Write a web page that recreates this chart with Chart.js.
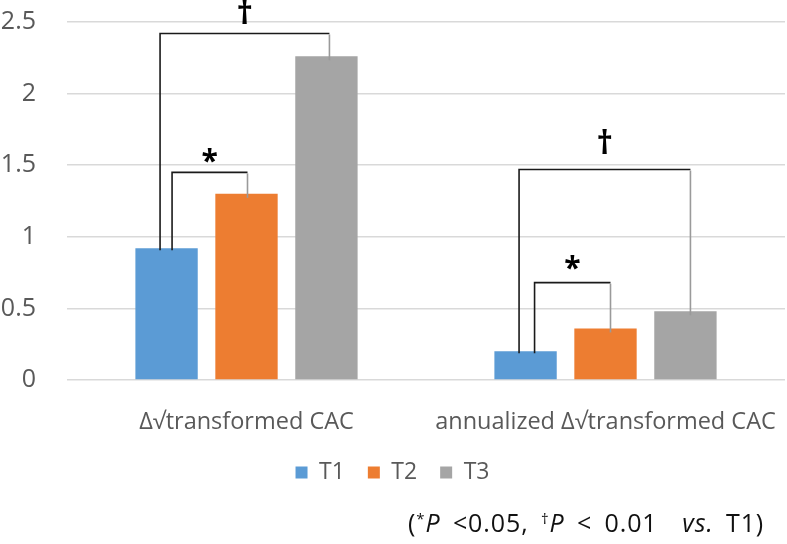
<!DOCTYPE html>
<html>
<head>
<meta charset="utf-8">
<script src="https://cdn.jsdelivr.net/npm/chart.js@4.4.1/dist/chart.umd.min.js"></script>
<style>
  html, body { margin: 0; padding: 0; background: #ffffff; }
  #wrap { position: relative; width: 787px; height: 544px; }
  #note {
    position: absolute; left: 408px; top: 505px;
    font-family: "Open Sans", "Noto Sans", sans-serif; font-size: 25px; color: #111;
    white-space: nowrap; letter-spacing: 0.9px; word-spacing: 5px;
  }
  #note sup { font-size: 15px; vertical-align: 8px; }
</style>
</head>
<body>
<div id="wrap">
  <canvas id="c" width="787" height="544"></canvas>
  <div id="note">(<sup>*</sup><i>P</i> &lt;0.05, <sup>†</sup><i>P</i> &lt; 0.01 &nbsp;<i>vs.</i> T1)</div>
</div>
<script>
const categories = ["Δ√transformed CAC", "annualized Δ√transformed CAC"];
const seriesNames = ["T1", "T2", "T3"];
const t1Values = [0.92, 0.20];
const t2Values = [1.30, 0.36];
const t3Values = [2.26, 0.48];
const yTicks = [0, 0.5, 1, 1.5, 2, 2.5];

// significance brackets (vs. T1)
const bracketCategory = [0, 0, 1, 1];
const bracketTarget = [1, 2, 1, 2];      // dataset index compared with T1
const bracketLevel = [1.45, 2.42, 0.68, 1.47];
const bracketMark = ["*", "†", "*", "†"];

const colors = ["#5B9BD5", "#ED7D31", "#A5A5A5"];
const FONT = '"Open Sans", "Noto Sans", sans-serif';

const bracketPlugin = {
  id: "brackets",
  afterDatasetsDraw(chart) {
    const ctx = chart.ctx;
    const y = chart.scales.y;
    ctx.save();
    for (let i = 0; i < bracketLevel.length; i++) {
      const cat = bracketCategory[i];
      const tgt = bracketTarget[i];
      const base = chart.getDatasetMeta(0).data[cat];
      const other = chart.getDatasetMeta(tgt).data[cat];
      const isDagger = bracketMark[i] === "†";
      const lx = base.x + (isDagger ? -6.5 : (cat === 0 ? 5.5 : 9));
      const rx = other.x + (cat === 0 ? (tgt === 1 ? 1 : 3) : 5);
      const ly = y.getPixelForValue(bracketLevel[i]);
      ctx.strokeStyle = "#1a1a1a";
      ctx.lineWidth = 1.6;
      ctx.beginPath();
      ctx.moveTo(lx, base.y + 2);
      ctx.lineTo(lx, ly);
      ctx.lineTo(rx, ly);
      ctx.stroke();
      ctx.strokeStyle = "#9a9a9a";
      ctx.beginPath();
      ctx.moveTo(rx, ly + 1);
      ctx.lineTo(rx, other.y + 4);
      ctx.stroke();
      ctx.fillStyle = "#000";
      ctx.textAlign = "center";
      ctx.textBaseline = "middle";
      ctx.font = "bold " + (isDagger ? 32 : 30) + "px " + FONT;
      const mx = (lx + rx) / 2;
      ctx.fillText(bracketMark[i], mx, ly + (isDagger ? (cat === 0 ? -19 : -25) : (cat === 0 ? -10 : -13)));
    }
    ctx.restore();
  }
};

new Chart(document.getElementById("c"), {
  type: "bar",
  data: {
    labels: categories,
    datasets: [
      { label: seriesNames[0], data: t1Values, backgroundColor: colors[0] },
      { label: seriesNames[1], data: t2Values, backgroundColor: colors[1] },
      { label: seriesNames[2], data: t3Values, backgroundColor: colors[2] }
    ]
  },
  options: {
    responsive: false,
    devicePixelRatio: 1,
    animation: false,
    categoryPercentage: 0.668,
    barPercentage: 0.78,
    layout: { padding: { top: 22, left: 0, right: 2, bottom: 50 } },
    plugins: {
      tooltip: { enabled: false },
      legend: {
        position: "bottom",
        labels: {
          boxWidth: 12, boxHeight: 12, padding: 23,
          color: "#595959",
          font: { family: FONT, size: 23 }
        }
      }
    },
    scales: {
      x: {
        afterFit(s) { s.height = 58; },
        grid: { display: true, drawOnChartArea: false, drawTicks: true, tickLength: 25, tickColor: "rgba(0,0,0,0)" },
        border: { display: false },
        ticks: { color: "#595959", padding: 3, font: { family: FONT, size: 23.5 } }
      },
      y: {
        min: 0, max: 2.5,
        afterFit(s) { s.width = 67; },
        afterBuildTicks(s) { s.ticks = yTicks.map(v => ({ value: v })); },
        grid: { color: "#d9d9d9", lineWidth: 1.5, drawTicks: true, tickLength: 28, tickColor: "rgba(0,0,0,0)" },
        border: { display: false },
        ticks: {
          color: "#595959", padding: 3, font: { family: FONT, size: 25 },
          callback: (v) => String(v)
        }
      }
    }
  },
  plugins: [bracketPlugin]
});
</script>
</body>
</html>
